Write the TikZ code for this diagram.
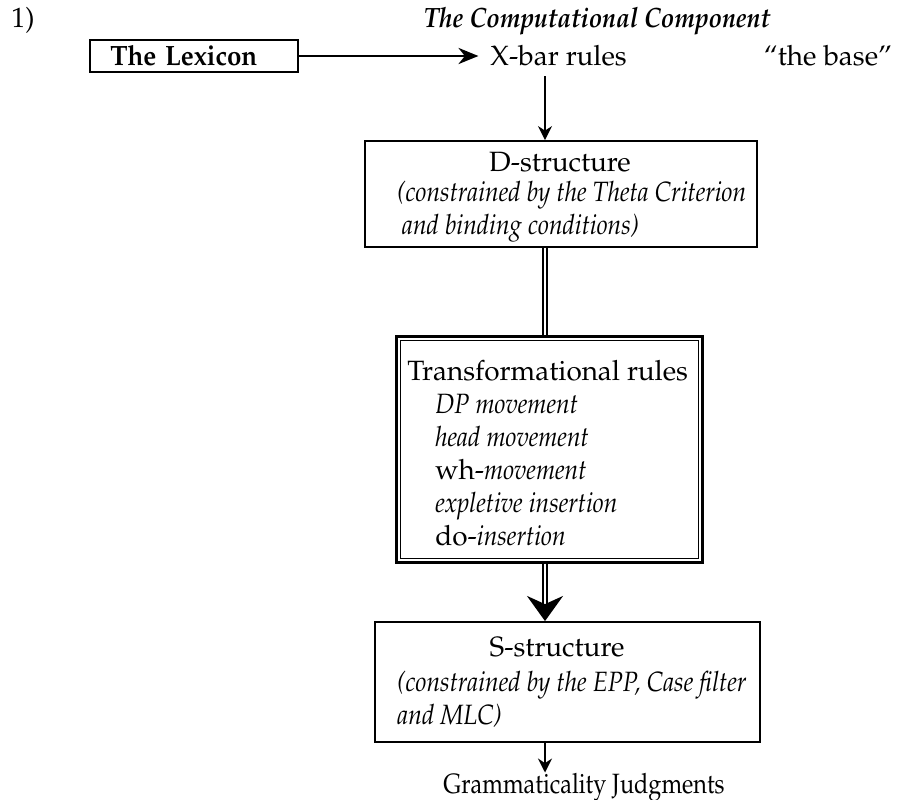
\documentclass[tikz,border=0pt]{standalone}
\usepackage[T1]{fontenc}
\usepackage{mathpazo}
\usepackage{graphicx}
\usepackage{tikz}
\usetikzlibrary{arrows.meta}
\newcommand{\slim}[1]{\scalebox{0.88}[1]{\itshape #1}}

\begin{document}
\begin{tikzpicture}[x=0.43pt, y=-0.43pt, >=Stealth,
 every node/.style={font=\fontsize{12}{14.2}\selectfont, inner sep=0pt},
 lexbox/.style={draw, line width=0.9pt, minimum height=13.8pt, text width=72pt, inner xsep=8.6pt, align=left},
 stagebox/.style={draw, line width=0.8pt},
 rulebox/.style={draw, line width=1.3pt},
 link/.style={line width=0.7pt},
 dlink/.style={double, double distance=1pt, line width=0.8pt}]
\useasboundingbox (0,0) rectangle (904,799);
\coordinate (axis) at (545,0);
\node[anchor=west] (num) at (11,20) {1)};
\node (comp) at (597,21) {\scalebox{0.88}[1]{\bfseries\itshape The Computational Component}};
\node[lexbox] (lex) at (194,56) {\scalebox{0.93}[1]{\bfseries The Lexicon}};
\node[anchor=west] (xbar) at (490,56) {X-bar rules};
\node (base) at (828,56) {``the base''};
% D-structure
\node[stagebox, minimum width=168.6pt, minimum height=45.6pt] (dbox) at (561,194) {};
\node (dtitle) at (560,162) {D-structure};
\node[anchor=west, align=left] (dnote) at (397,212) {\slim{(constrained by the Theta Criterion}\\\hspace{2pt}\slim{and binding conditions)}};
% transformations
\node[rulebox, minimum width=131.2pt, minimum height=96.8pt] (tbox) at (549.5,449.5) {};
\draw[line width=0.6pt] ([shift={(2.2pt,-2.2pt)}]tbox.north west) rectangle ([shift={(-2.2pt,2.2pt)}]tbox.south east);
\node[anchor=west, align=left] (trules) at (407,453) {Transformational rules\\
 \hspace{12pt}\slim{DP movement}\\
 \hspace{12pt}\slim{head movement}\\
 \hspace{12pt}wh-\slim{movement}\\
 \hspace{12pt}\slim{expletive insertion}\\
 \hspace{12pt}do-\slim{insertion}};
% S-structure
\node[stagebox, minimum width=165.6pt, minimum height=51.6pt] (sbox) at (567.5,682) {};
\node (stitle) at (557,647) {S-structure};
\node[anchor=west, align=left] (snote) at (397,699.5) {\slim{(constrained by the EPP, Case filter}\\\slim{and MLC)}};
\node[anchor=west] (gram) at (443,787) {\scalebox{0.84}[1]{Grammaticality Judgments}};
\draw[link,-{Stealth[length=8.6pt,width=7pt]}, shorten >=5pt] (lex.east) -- (xbar.west);
\draw[link,-{Stealth[length=6pt,width=6pt]}, shorten <=4pt] (xbar.south -| axis) -- (dbox.north -| axis);
\draw[dlink] (dbox.south -| axis) -- (tbox.north -| axis);
\draw[dlink,-{Stealth[length=10.8pt,width=15.5pt]}] (tbox.south -| axis) -- (sbox.north -| axis);
\draw[link,-{Stealth[length=6pt,width=6pt]}] (sbox.south -| axis) -- (gram.north -| axis);
\end{tikzpicture}
\end{document}
